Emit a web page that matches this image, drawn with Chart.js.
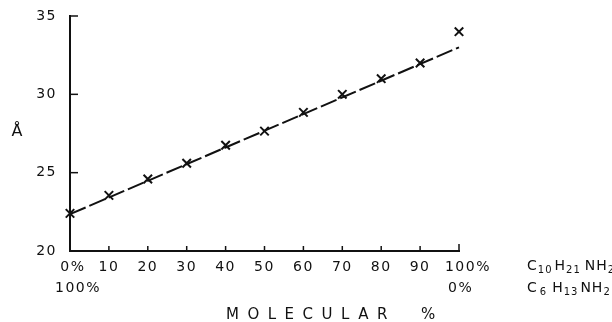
<!DOCTYPE html>
<html>
<head>
<meta charset="utf-8">
<script src="https://cdn.jsdelivr.net/npm/chart.js@4"></script>
<style>
  html, body { margin: 0; padding: 0; background: #fff; }
  #wrap { width: 612px; height: 322px; position: relative; }
</style>
</head>
<body>
<div id="wrap"><canvas id="chart" width="612" height="322"></canvas></div>
<script>
(function(){
  // data
  const molPct = [0, 10, 20, 30, 40, 50, 60, 70, 80, 90, 100];
  const spacing = [22.4, 23.55, 24.6, 25.6, 26.75, 27.65, 28.85, 30.0, 31.0, 32.0, 34.0];
  const fitX = [0, 100];
  const fitY = [22.35, 33.0];
  const xTickLabels = [' 0%', '10', '20', '30', '40', '50', '60', '70', '80', '90', '   100%'];
  const yTicks = [20, 25, 30, 35];

  const FONT = '"DejaVu Sans", sans-serif';
  const INK = '#111';

  function spaced(ctx, text, x, y, ls, align) {
    ctx.save();
    ctx.letterSpacing = ls + 'px';
    ctx.textAlign = align || 'left';
    ctx.fillText(text, x, y);
    const w = ctx.measureText(text).width;
    ctx.restore();
    return w;
  }

  // formula with subscripts: parts = [[text, isSub, gapAfter], ...]
  function formula(ctx, parts, x, y) {
    let cx = x;
    parts.forEach(p => {
      ctx.save();
      ctx.letterSpacing = '1px';
      ctx.textAlign = 'left';
      if (p[1]) {
        ctx.font = '10px ' + FONT;
        ctx.fillText(p[0], cx, y + 4);
      } else {
        ctx.font = '14px ' + FONT;
        ctx.fillText(p[0], cx, y);
      }
      cx += ctx.measureText(p[0]).width + (p[2] || 0);
      ctx.restore();
    });
  }

  const decorPlugin = {
    id: 'decor',
    beforeDraw(chart) {
      chart.ctx.letterSpacing = '1.5px';
    },
    afterDraw(chart) {
      const ctx = chart.ctx;
      const xs = chart.scales.x, ys = chart.scales.y;
      const left = xs.getPixelForValue(0), right = xs.getPixelForValue(100);
      const top = ys.getPixelForValue(35), bottom = ys.getPixelForValue(20);
      ctx.save();
      ctx.strokeStyle = INK;
      ctx.lineWidth = 2;
      ctx.lineCap = 'butt';
      // axes
      ctx.beginPath();
      ctx.moveTo(left, top - 1);
      ctx.lineTo(left, bottom);
      ctx.lineTo(right + 1, bottom);
      ctx.stroke();
      // inward ticks
      ctx.lineWidth = 1.5;
      yTicks.forEach(v => {
        if (v === 20) return;
        const py = ys.getPixelForValue(v);
        ctx.beginPath();
        ctx.moveTo(left, py);
        ctx.lineTo(left + 8, py);
        ctx.stroke();
      });
      molPct.forEach(v => {
        if (v === 0) return;
        const px = xs.getPixelForValue(v);
        ctx.beginPath();
        ctx.moveTo(px, bottom);
        ctx.lineTo(px, bottom - (v === 100 ? 7 : 5));
        ctx.stroke();
      });

      ctx.fillStyle = INK;
      ctx.textBaseline = 'middle';
      ctx.font = '14px ' + FONT;
      // second row of composition labels
      spaced(ctx, '100%', 55, 288, 1.5, 'left');
      spaced(ctx, '0%', 448, 288, 1.5, 'left');
      // formulas
      formula(ctx, [['C', false, 0], ['10', true, 2], ['H', false, 0], ['21', true, 4], ['NH', false, 0], ['2', true]], 527, 266);
      formula(ctx, [['C', false, 2], ['6', true, 5], ['H', false, 0], ['13', true, 2], ['NH', false, 0], ['2', true]], 527, 288);
      // axis title
      ctx.font = '15px ' + FONT;
      spaced(ctx, 'MOLECULAR', 226, 315, 8.5, 'left');
      spaced(ctx, '%', 421, 315, 0, 'left');
      // y axis unit
      ctx.font = '16px ' + FONT;
      spaced(ctx, 'Å', 17, 132, 0, 'center');
      ctx.restore();
    }
  };

  new Chart(document.getElementById('chart'), {
    type: 'scatter',
    data: {
      datasets: [
        {
          label: 'fit',
          type: 'line',
          data: fitX.map((x, i) => ({ x: x, y: fitY[i] })),
          borderColor: INK,
          borderWidth: 2,
          borderDash: [17, 4],
          pointRadius: 0,
          fill: false,
          clip: false,
          order: 2
        },
        {
          label: 'measured',
          data: molPct.map((x, i) => ({ x: x, y: spacing[i] })),
          pointStyle: 'crossRot',
          pointRadius: 6,
          borderColor: INK,
          backgroundColor: INK,
          pointBorderWidth: 2,
          clip: false,
          order: 1
        }
      ]
    },
    options: {
      responsive: false,
      animation: false,
      layout: { padding: { left: 0, right: 153, top: 16, bottom: 0 } },
      plugins: { legend: { display: false }, tooltip: { enabled: false } },
      scales: {
        x: {
          type: 'linear', min: 0, max: 100,
          afterFit: s => { s.height = 71; s.paddingLeft = 0; s.paddingRight = 0; },
          afterBuildTicks: s => { s.ticks = molPct.map(v => ({ value: v })); },
          border: { display: false },
          grid: { display: false, drawTicks: false },
          ticks: {
            padding: 8,
            color: INK,
            font: { family: FONT, size: 14 },
            maxRotation: 0,
            autoSkip: false,
            callback: (v) => xTickLabels[molPct.indexOf(v)]
          }
        },
        y: {
          min: 20, max: 35,
          afterFit: s => { s.width = 70; s.paddingTop = 0; s.paddingBottom = 0; },
          afterBuildTicks: s => { s.ticks = yTicks.map(v => ({ value: v })); },
          border: { display: false },
          grid: { display: false, drawTicks: false },
          ticks: {
            padding: 13,
            color: INK,
            font: { family: FONT, size: 14 }
          }
        }
      }
    },
    plugins: [decorPlugin]
  });
})();
</script>
</body>
</html>
